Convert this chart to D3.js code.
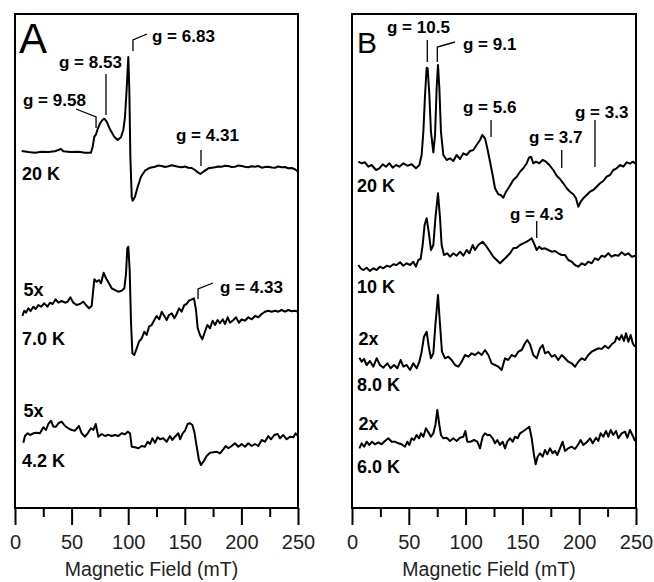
<!DOCTYPE html>
<html>
<head>
<meta charset="utf-8">
<script src="https://cdn.jsdelivr.net/npm/d3@7"></script>
<style>
  body { margin: 0; background: #fff; }
  svg { display: block; }
</style>
</head>
<body>
<div id="chart"></div>
<script>
// field axis
const fieldTicks = [0, 50, 100, 150, 200, 250]
const minorTicks = [25, 75, 125, 175, 225]

// panel A spectra: [field mT, signal a.u.]
const specA20 = [[5.9,0.1],[11.8,0],[17.7,-0.07],[23.6,0.03],[29.4,0],[35.3,0.07],[40.6,0.3],[42.7,0.07],[48.6,0],[56,0.02],[61.8,-0.07],[67.1,-0.07],[68.6,0.53],[70.1,1.53],[71.6,1.77],[73,2.27],[75.1,2.87],[77.2,3.2],[78.9,3.33],[81,3.03],[83.9,2.27],[87.7,1.53],[90.7,1.2],[93.6,1.47],[95.7,2.2],[97.2,3.53],[98.6,6.2],[100.1,9.5],[101,6.2],[101.9,-0.47],[103.1,-4.47],[103.9,-4.87],[106,-4.47],[108.4,-3.47],[111.3,-2.47],[114.8,-1.87],[119.3,-1.57],[123.7,-1.47],[126.5,-1.35],[129.6,-1.4],[132.5,-1.5],[135.5,-1.42],[138.4,-1.33],[141.3,-1.4],[144.3,-1.47],[147.2,-1.53],[150.2,-1.45],[153.1,-1.57],[156.1,-1.6],[159,-1.8],[162,-2.07],[163.7,-2.2],[166.4,-1.97],[170.8,-1.63],[173.8,-1.57],[176.7,-1.53],[179.7,-1.45],[182.6,-1.47],[185.5,-1.37],[188.5,-1.4],[191.4,-1.5],[194.3,-1.47],[197.3,-1.35],[200.2,-1.4],[203.1,-1.47],[206.1,-1.53],[209,-1.42],[212,-1.47],[215,-1.4],[217.9,-1.57],[220.9,-1.5],[223.8,-1.47],[226.8,-1.55],[229.7,-1.57],[232.6,-1.45],[235.6,-1.53],[238.5,-1.5],[241.5,-1.63],[244.4,-1.6],[247.3,-1.73],[250,-1.97]]
const specA7 = [[6.5,-0.6],[8.2,-0.07],[9.7,-0.27],[11.8,0.17],[13.8,-0.1],[16.2,0.33],[18.3,0.1],[20.6,0.5],[23,0.33],[25.9,0.67],[28.6,0.33],[30.9,0.73],[33.3,0.6],[35.9,1.07],[38.3,0.73],[41.2,0.9],[44.2,0.73],[46.5,0.83],[48.9,1.27],[51.5,0.73],[54.5,0.5],[57.4,0.6],[60.4,0.83],[62.7,0.5],[65.4,0.17],[67.7,0.4],[70.1,3.07],[72.1,2.83],[74.2,3],[76,2.67],[78.3,3.73],[80.4,3.17],[83,2.67],[85.4,2.17],[88.3,2],[91.3,1.83],[94.2,1.93],[96.6,2.17],[98.1,3.67],[99.2,6.17],[100.1,6.33],[101.3,4],[102.5,-1.33],[103.7,-4.33],[105.4,-4.5],[107.5,-3.83],[109.5,-3.17],[111.9,-2.83],[114.3,-2.17],[116.3,-2.5],[118.4,-1.67],[120.7,-1.5],[123.1,-1],[125.1,-0.6],[127.5,-0.93],[129.6,-0.17],[131.9,-0.6],[134,-1],[136,-0.5],[138.4,-0.33],[140.8,-0.83],[142.8,-0.4],[144.9,0.17],[147.2,-0.17],[149.6,0.5],[151.6,0.6],[153.7,0.93],[156.1,1.07],[158.1,1.17],[159.9,0],[161.4,-1.83],[163.4,-2.5],[165.5,-2.93],[167.8,-2.17],[169.9,-1.5],[172.3,-1.83],[174.6,-1.07],[176.7,-1.5],[179,-1],[181.1,-1.33],[183.5,-0.93],[185.5,-1.4],[187.9,-0.73],[189.9,-1.27],[192.9,-1],[195.2,-0.73],[197.9,-1.27],[200.2,-0.93],[203.2,-1.07],[206.1,-0.73],[209.1,-0.93],[212,-0.6],[215,-0.73],[217.9,-0.4],[220.8,-0.17],[223.8,-0.07],[226.7,-0.17],[229.7,-0.07],[232.6,-0.17],[235.6,0],[238.5,-0.17],[241.5,0],[244.4,-0.13],[247.3,-0.07],[250,-0.17]]
const specA4 = [[7.4,-0.27],[8.8,0.4],[11.2,0.67],[13.3,0.5],[16.2,0.67],[19.1,0.73],[22.1,0.67],[25,1.27],[27.4,1],[29.4,1.6],[31.8,1.93],[33.9,1.33],[36.2,1.33],[38.9,1.73],[41.2,1.83],[44.2,1.4],[47.1,1.17],[50.1,1],[53,0.93],[56.5,1.4],[58.9,0.67],[61.8,0.33],[64.2,0.67],[67.1,1.17],[69.2,1],[71.3,1.6],[73.6,0.33],[76.6,0.6],[79.5,0.4],[82.4,0.53],[85.4,0.4],[88.3,0.5],[91.3,0.4],[94.2,0.67],[97.2,0.57],[99.5,0.83],[101.6,0.67],[103.1,-0.67],[106,-0.73],[109,-0.83],[111.9,-0.6],[114.8,-0.67],[117.2,-0.17],[119.3,-0.4],[121.3,0.17],[123.7,-0.27],[126,0.27],[128.1,0.07],[131,0.17],[134,-0.17],[136.9,0.4],[139,0],[141.3,0.33],[144.3,0.67],[145.8,0.07],[148.1,0.67],[150.2,0.93],[152.5,1.6],[154.6,1.67],[156.7,1.5],[158.4,0.83],[160.5,-0.67],[162.5,-2],[164.3,-2.5],[166.4,-2.17],[169.3,-1.6],[172.3,-1.27],[175.2,-1.23],[178.2,-1.17],[181.1,-1.33],[184,-0.93],[186.1,-0.6],[188.5,-0.83],[191.4,-0.6],[194.3,-0.33],[197.3,-0.67],[200.2,-0.4],[203.2,-0.67],[206.1,-0.33],[209.1,-0.6],[212,-0.4],[215,-0.6],[217.9,0],[220.8,-0.17],[223.8,0.4],[226.1,0.07],[229.1,0.5],[232,0.6],[234.1,0.17],[237,0.5],[240,0.07],[242.9,0.33],[245.9,0.27],[247.9,0.67],[250,0.4]]

// panel B spectra
const specB20 = [[5.6,0.13],[8.5,-0.03],[11.4,0.07],[14.4,-0.37],[17.3,-0.2],[21.1,-0.7],[24.1,-0.53],[27,-0.13],[29.9,-0.37],[32.9,-0.03],[35.8,-0.47],[38.7,-0.2],[41.7,-0.37],[45.2,-0.03],[48.7,-0.27],[52.5,-0.13],[56.3,-0.53],[59.3,-0.2],[61.3,0.8],[62.8,3.13],[64.3,6.8],[65.7,9.53],[66.6,9.47],[68.1,6.8],[69.5,3.13],[71.6,1.07],[73.1,2.8],[74.5,7.47],[75.7,9.8],[76.9,7.47],[78.3,3.13],[80.4,0.8],[83.3,0.3],[86.3,0.47],[89.2,0.2],[92.1,0.8],[95.1,0.4],[98,0.97],[100.9,0.8],[103.9,1.2],[106.8,1.3],[109.7,1.8],[112.7,2.3],[114.7,2.8],[117.1,2.47],[119.1,1.47],[121.5,0.13],[123.8,-1.2],[125.9,-2.53],[128.8,-3.13],[130.9,-3.2],[133.2,-3.47],[135.6,-2.87],[138.5,-2.37],[142,-1.7],[145,-1.37],[147.9,-0.87],[150.8,-0.53],[153.8,-0.03],[155.8,0.53],[157.6,0.63],[159.6,-0.03],[162,0.13],[164.9,-0.03],[167.8,0.3],[170.8,0.13],[173.7,-0.2],[177.2,-0.7],[180.2,-1.27],[183.1,-1.6],[186,-2.03],[189,-2.53],[191.9,-2.87],[194.8,-3.13],[197.2,-3.53],[199.2,-4.37],[201.3,-3.87],[203.6,-3.53],[206.6,-3.2],[209.5,-2.87],[212.4,-2.7],[215.4,-2.37],[218.3,-2.03],[221.2,-1.8],[224.2,-1.37],[227.1,-1.2],[230,-0.7],[233,-0.53],[235.9,-0.2],[238.8,-0.37],[241.8,0.07],[244.7,-0.07],[247.1,0.13],[249.4,-0.03]]
const specB10 = [[5.6,-0.5],[7.6,-0.83],[10,-1],[12.9,-0.77],[15.8,-1.1],[18.8,-0.83],[21.7,-1],[24.6,-0.67],[27.6,-0.83],[30.5,-0.57],[33.5,-0.67],[36.4,-0.43],[39.3,-0.5],[42.3,-0.23],[45.2,-0.57],[48.1,-0.33],[51.1,-0.5],[54,-0.17],[56.3,-0.67],[58.4,0],[60.4,0.1],[62.2,1.5],[63.9,3.5],[65.7,4.17],[67.5,2.83],[69.5,1],[71.6,1.5],[73.4,4.17],[75.7,6.67],[77.5,4.17],[78.9,1.5],[81,0.5],[83.9,0.67],[86.3,0.33],[89.2,0.67],[92.1,0.43],[95.1,0.83],[98,0.43],[100.9,1],[103.3,0.67],[106.2,1.5],[108.3,1],[111.2,1.5],[115,1.83],[118.5,1.33],[121.5,0.83],[124.4,0.33],[127.3,0],[130.3,-0.33],[133.2,0],[136.2,0.33],[139.1,0.67],[142,1.17],[145,1.23],[147.9,1.5],[150.8,1.67],[153.8,1.83],[156.1,2],[158.2,2.17],[160.2,1.67],[162.6,1],[164.9,1.33],[167,1.1],[169.9,1.17],[172.8,1],[175.8,0.83],[178.7,0.9],[181.6,0.67],[184.6,0.5],[187.5,0.5],[190.4,0],[193.4,-0.17],[196.3,-0.5],[199.2,-0.67],[202.2,-0.33],[205.1,-0.5],[208,-0.17],[211,-0.33],[213.9,0.17],[216.8,0],[219.8,0.43],[222.7,0.33],[225.6,0.67],[228.6,0.33],[231.5,0.5],[234.5,0.43],[237.4,0.77],[240.3,0.5],[243.3,0.67],[246.2,0.33],[249.4,0.43]]
const specB8 = [[6.5,0.23],[8.5,-0.17],[10.6,0.1],[12.9,-0.5],[15.8,-0.1],[18.8,-0.67],[21.7,0.17],[24.6,-0.5],[27.6,-0.77],[31.1,-0.33],[34,-0.83],[37,-0.5],[39.9,-0.83],[42.8,0],[45.2,-0.67],[48.1,-0.5],[51.1,-1],[54,-0.33],[56.9,-0.83],[59.3,-0.17],[61.3,0.83],[63.4,2.33],[65.7,2.83],[67.8,1.17],[69.5,0.17],[71.6,0.67],[73.4,3.5],[75.7,6.5],[77.5,3.5],[79.2,0.83],[81.9,0.17],[84.8,0.33],[87.7,0],[90.7,-0.5],[93.6,-0.67],[96.5,-0.17],[99.5,0.5],[102.4,0.33],[105.3,0.67],[108.3,0.5],[111.2,0.77],[114.1,0.5],[117.1,1],[120,0.5],[122.9,-0.33],[125.9,-0.5],[128.8,-0.67],[131.7,-1],[134.7,0.17],[137.6,0],[140.5,0.5],[143.5,0.33],[146.4,0.83],[149.4,1],[152.3,1.67],[154.3,2],[156.7,1.57],[159.6,0.5],[162.6,0.17],[165.5,1.17],[167.8,1.5],[169.9,0.67],[172.8,0.83],[175.8,0.33],[178.7,0.5],[181.6,0],[184.6,0.5],[187.5,0.17],[190.4,-0.17],[193.4,-0.33],[196.3,-0.67],[199.2,-0.17],[202.2,0.17],[205.1,0],[208,0.5],[211,0.83],[213.9,1],[216.8,1.17],[219.8,1.1],[222.7,1.43],[225.6,1.17],[228.6,1.57],[231.5,1.83],[233,2.33],[235.3,2],[237.4,2.5],[239.4,1.9],[241.2,2.67],[243.3,1.83],[245.3,2.5],[247.1,1.67],[249.1,1.33]]
const specB6 = [[6.5,-0.53],[8.5,-0.03],[10.6,-0.37],[12.9,0.13],[15.3,-0.2],[17.6,0.13],[20.2,-0.13],[23.2,0.07],[26.1,-0.13],[29,0.2],[32,0.47],[34.9,0.13],[37.9,0.13],[40.8,-0.03],[43.7,-0.13],[46.7,-0.37],[48.7,0.13],[50.5,-0.2],[52.5,0.47],[54.6,0.3],[56.9,0.8],[59,0.47],[60.7,0.97],[62.8,0.63],[65.1,1.47],[67.2,1.07],[69.5,0.63],[71.6,0.97],[73.4,1.8],[75.1,3.3],[76.9,1.8],[78.3,0.8],[80.4,0.47],[83.3,0.53],[86.3,0.2],[89.2,0.47],[92.1,0.2],[95.1,0.53],[98,0.63],[99.8,1.2],[101.5,0.13],[104.5,0.13],[107.4,0.3],[110.3,0.13],[112.7,-0.53],[115,0.63],[117.1,0.97],[119.1,0.8],[121.5,0.8],[123.8,0.47],[125.9,-0.03],[127.9,0.3],[130.3,-0.2],[132.6,0.13],[134.7,-0.53],[136.7,0.13],[139.1,0.47],[141.4,0.13],[143.5,0.63],[145.8,0.47],[147.9,0.97],[150.2,1.13],[152.3,1.3],[154.3,1.47],[156.1,1.63],[158.2,0.47],[160.2,-1.2],[161.7,-2.13],[163.4,-1.37],[165.5,-1.03],[167.8,-1.37],[169.9,-0.7],[171.9,-1.13],[174.3,-0.53],[176.6,-1.03],[178.7,-0.8],[180.7,-1.2],[183.1,-0.53],[185.4,0.13],[187.5,-0.8],[190.4,-0.53],[193.4,-0.37],[196.3,-0.6],[199.2,-0.13],[201.3,0.3],[203.6,-0.2],[206.6,0.07],[209.5,0.47],[211.9,-0.03],[214.8,0.53],[216.8,0.2],[218.9,0.97],[221.2,0.63],[223.6,1.2],[225.6,0.63],[227.7,1.3],[230,0.8],[232.4,1.2],[234.5,0.47],[237.4,0.97],[240.3,1.13],[242.4,0.53],[244.7,1.3],[247.1,0.73],[249.1,0.2]]

const tempsA = ['20 K', '7.0 K', '4.2 K']
const gainsA = ['', '5x', '5x']
const tempsB = ['20 K', '10 K', '8.0 K', '6.0 K']
const gainsB = ['', '', '2x', '2x']

const gTextA = ['g = 9.58', 'g = 8.53', 'g = 6.83', 'g = 4.31', 'g = 4.33']
const gFieldA = [71.6, 80.4, 104.2, 164.3, 161.7]
const gTextB = ['g = 10.5', 'g = 9.1', 'g = 5.6', 'g = 3.7', 'g = 3.3', 'g = 4.3']
const gFieldB = [66.3, 75.1, 122.4, 184.6, 213.9, 162.6]

const WIDTH = 654
const HEIGHT = 582
const TOP = 14
const BOTTOM = 508
const FONT = 'Liberation Sans, Arial, Helvetica, sans-serif'

const svg = d3.select('#chart').append('svg')
  .attr('width', WIDTH)
  .attr('height', HEIGHT)

function drawPanel(opts) {
  const g = svg.append('g')

  const x = d3.scaleLinear().domain([0, 250]).range([opts.left, opts.right])
  // 10 px per unit of signal
  const y = d3.scaleLinear().domain([0, 49.4]).range([BOTTOM, TOP])

  g.append('rect')
    .attr('x', opts.left).attr('y', TOP)
    .attr('width', opts.right - opts.left).attr('height', BOTTOM - TOP)
    .attr('fill', 'none').attr('stroke', '#000').attr('stroke-width', 2)

  const major = g.append('g')
    .attr('transform', `translate(0, ${BOTTOM})`)
    .call(d3.axisBottom(x).tickValues(fieldTicks).tickSize(17).tickPadding(10).tickFormat(d3.format('d')))
  const minor = g.append('g')
    .attr('transform', `translate(0, ${BOTTOM})`)
    .call(d3.axisBottom(x).tickValues(minorTicks).tickSize(9).tickFormat(''))
  ;[major, minor].forEach(ax => {
    ax.select('.domain').remove()
    ax.selectAll('line').attr('stroke', '#000').attr('stroke-width', 2)
  })
  major.selectAll('text')
    .attr('font-family', FONT).attr('font-size', '20px').attr('fill', '#222')

  g.append('text')
    .attr('x', (opts.left + opts.right) / 2 - 5)
    .attr('y', 576)
    .attr('text-anchor', 'middle')
    .attr('font-family', FONT).attr('font-size', '19.5px').attr('fill', '#222')
    .text('Magnetic Field (mT)')

  g.append('text')
    .attr('x', opts.letterX).attr('y', 53)
    .attr('font-family', FONT).attr('font-size', opts.letterSize)
    .text(opts.letter)

  const line = d3.line()
    .x(d => x(d[0]))

  opts.series.forEach((s, i) => {
    const off = opts.offsets[i]
    g.append('path')
      .datum(s)
      .attr('fill', 'none')
      .attr('stroke', '#000')
      .attr('stroke-width', 2)
      .attr('stroke-linejoin', 'round')
      .attr('d', line.y(d => y(off + d[1])))
  })

  opts.temps.forEach((t, i) => {
    g.append('text')
      .attr('x', opts.labelX).attr('y', opts.tempY[i])
      .attr('font-family', FONT).attr('font-size', '18px').attr('font-weight', 'bold')
      .text(t)
    if (opts.gains[i]) {
      g.append('text')
        .attr('x', opts.labelX + 1.5).attr('y', opts.gainY[i])
        .attr('font-family', FONT).attr('font-size', '18px').attr('font-weight', 'bold')
        .text(opts.gains[i])
    }
  })

  // g-value markers
  opts.gText.forEach((txt, i) => {
    const m = opts.marks[i]
    const lx = x(opts.gField[i])
    let pts = [[lx, m.y0], [lx, m.y1]]
    if (m.elbow) pts.push(m.elbow)
    g.append('path')
      .attr('d', d3.line()(pts))
      .attr('fill', 'none').attr('stroke', '#000').attr('stroke-width', 1.3)
    g.append('text')
      .attr('x', m.tx).attr('y', m.ty)
      .attr('font-family', FONT).attr('font-size', '17px').attr('font-weight', 'bold')
      .text(txt)
  })
}

drawPanel({
  left: 15, right: 298,
  letter: 'A', letterX: 19, letterSize: '42px',
  series: [specA20, specA7, specA4],
  offsets: [35.6, 19.8, 6.8],
  temps: tempsA, gains: gainsA,
  labelX: 22, tempY: [180, 345, 467], gainY: [0, 296, 417],
  gText: gTextA, gField: gFieldA,
  marks: [
    {y0: 128, y1: 117, elbow: [76, 109], tx: 23, ty: 106},
    {y0: 115, y1: 74, tx: 59, ty: 68},
    {y0: 51, y1: 40, elbow: [147, 34], tx: 152, ty: 42},
    {y0: 166, y1: 150, tx: 176, ty: 141},
    {y0: 299, y1: 289, elbow: [213, 283], tx: 220, ty: 293}
  ]
})

drawPanel({
  left: 352, right: 636,
  letter: 'B', letterX: 357, letterSize: '30px',
  series: [specB20, specB10, specB8, specB6],
  offsets: [34.5, 24.8, 14.8, 6.5],
  temps: tempsB, gains: gainsB,
  labelX: 357, tempY: [192, 293, 391, 473], gainY: [0, 0, 345, 430],
  gText: gTextB, gField: gFieldB,
  marks: [
    {y0: 62, y1: 40, tx: 387, ty: 33},
    {y0: 62, y1: 47, elbow: [455, 42], tx: 463, ty: 50},
    {y0: 137, y1: 120, tx: 463, ty: 113},
    {y0: 168, y1: 150, tx: 529, ty: 143},
    {y0: 167, y1: 120, tx: 575, ty: 118},
    {y0: 238, y1: 221, tx: 510, ty: 220}
  ]
})
</script>
</body>
</html>
